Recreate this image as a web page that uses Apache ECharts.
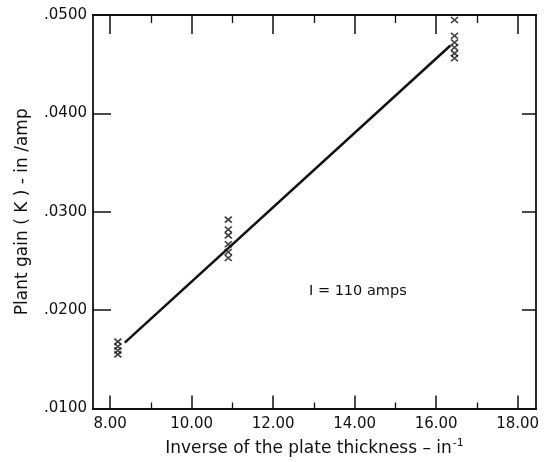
<!DOCTYPE html>
<html>
<head>
<meta charset="utf-8">
<script src="https://cdn.jsdelivr.net/npm/echarts@6/dist/echarts.min.js"></script>
<style>html,body{margin:0;padding:0;background:#fff}#c{width:546px;height:462px}</style>
</head>
<body>
<div id="c"></div>
<script>
// ---- data ----
const xMajorTicks = [8, 10, 12, 14, 16, 18];
const xMinorTicks = [9, 11, 13, 15, 17];
const yTicks = [0.02, 0.03, 0.04];
const xLabelValues = [8, 10, 12, 14, 16, 18];

const group1X = 8.19;
const group1Y = [0.0168, 0.0163, 0.0159, 0.0155];
const group2X = 10.9;
const group2Y = [0.0292, 0.0282, 0.0276, 0.0267, 0.0259, 0.0253];
const group3X = 16.45;
const group3Y = [0.0495, 0.0479, 0.0472, 0.0467, 0.0461, 0.0456];

const fitLineX = [8.36, 16.35];
const fitLineY = [0.0167, 0.0469];

const annotation = 'I = 110 amps';
// --------------

const pts = [];
group1Y.forEach(v => pts.push([group1X, v]));
group2Y.forEach(v => pts.push([group2X, v]));
group3Y.forEach(v => pts.push([group3X, v]));
const linePts = fitLineX.map((x, i) => [x, fitLineY[i]]);

const FONT = 'DejaVu Sans';
const INK = '#111';
const XMIN = 7.58, XMAX = 18.45;

function xAx(opts) {
  return Object.assign({
    type: 'value', min: XMIN, max: XMAX,
    axisLine: {show: true, lineStyle: {color: INK, width: 1.8}},
    splitLine: {show: false},
    axisLabel: {show: false},
  }, opts);
}

const chart = echarts.init(document.getElementById('c'));
chart.setOption({
  animation: false,
  backgroundColor: '#fff',
  grid: {left: 93, right: 10, top: 15, bottom: 42, show: false},
  xAxis: [
    xAx({
      position: 'bottom',
      axisTick: {show: true, inside: true, length: 13, customValues: xMajorTicks, lineStyle: {color: INK, width: 1.5}},
      axisLabel: {show: true, customValues: xLabelValues, color: INK, fontFamily: FONT, fontSize: 15, margin: 8,
        formatter: v => v.toFixed(2)},
      name: 'Inverse of the plate thickness – in{sup|-1}',
      nameLocation: 'middle', nameGap: 29,
      nameTextStyle: {color: INK, fontFamily: FONT, fontSize: 17,
        rich: {sup: {fontSize: 11, verticalAlign: 'top', padding: [0, 0, 11, 1], color: INK, fontFamily: FONT}}}
    }),
    xAx({
      position: 'bottom',
      axisTick: {show: true, inside: true, length: 6, customValues: xMinorTicks, lineStyle: {color: INK, width: 1.3}}
    }),
    xAx({
      position: 'top',
      axisTick: {show: true, inside: true, length: 19, customValues: xMajorTicks, lineStyle: {color: INK, width: 1.5}}
    }),
    xAx({
      position: 'top',
      axisTick: {show: true, inside: true, length: 8, customValues: xMinorTicks, lineStyle: {color: INK, width: 1.3}}
    })
  ],
  yAxis: [
    {
      type: 'value', position: 'left', min: 0.01, max: 0.05, interval: 0.01,
      axisLine: {show: true, lineStyle: {color: INK, width: 1.8}},
      axisTick: {show: true, inside: true, length: 18, customValues: yTicks, lineStyle: {color: INK, width: 1.5}},
      splitLine: {show: false},
      axisLabel: {color: INK, fontFamily: FONT, fontSize: 15, margin: 6,
        formatter: v => v.toFixed(4).replace(/^0/, '')},
      name: 'Plant gain ( K ) - in /amp', nameLocation: 'middle', nameGap: 62, nameRotate: 90,
      nameTextStyle: {color: INK, fontFamily: FONT, fontSize: 17}
    },
    {
      type: 'value', position: 'right', min: 0.01, max: 0.05, interval: 0.01,
      axisLine: {show: true, lineStyle: {color: INK, width: 1.8}},
      axisTick: {show: true, inside: true, length: 14, customValues: yTicks, lineStyle: {color: INK, width: 1.5}},
      splitLine: {show: false},
      axisLabel: {show: false}
    }
  ],
  graphic: [{
    type: 'text', left: 309, top: 284,
    style: {text: annotation, fill: INK, font: '14.5px "DejaVu Sans"'}
  }],
  series: [
    {
      type: 'line', xAxisIndex: 0, yAxisIndex: 0, data: linePts,
      showSymbol: false, symbol: 'none',
      lineStyle: {color: INK, width: 2.5}, silent: true
    },
    {
      type: 'scatter', xAxisIndex: 0, yAxisIndex: 0, data: pts,
      symbol: 'path://M0,0L10,10M10,0L0,10', symbolSize: [7, 6],
      itemStyle: {color: 'none', borderColor: INK, borderWidth: 1.6},
      silent: true
    }
  ]
});
</script>
</body>
</html>
